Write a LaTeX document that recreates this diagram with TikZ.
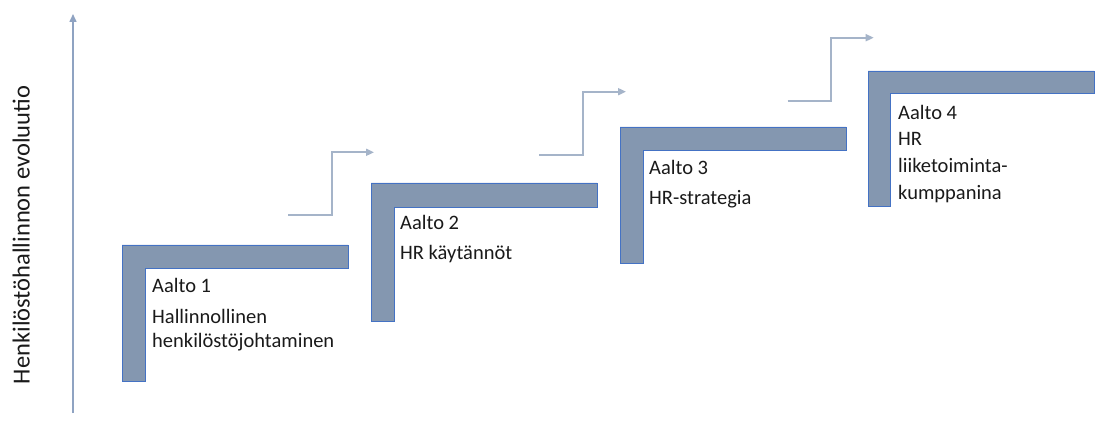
\documentclass[tikz,border=0pt]{standalone}
\usepackage{fontspec}
\setmainfont{Carlito}
\usetikzlibrary{arrows.meta}
\definecolor{stepfill}{HTML}{8497B0}
\definecolor{stepline}{HTML}{4472C4}
\definecolor{arrowc}{HTML}{A5B4C9}
\definecolor{axisc}{HTML}{8FA3C2}
\definecolor{txt}{HTML}{1A1A1A}
\begin{document}
\begin{tikzpicture}[x=1pt,y=-1pt,
  stepshape/.style={fill=stepfill,draw=stepline,line width=0.9pt},
  flowarrow/.style={draw=arrowc,line width=1.8pt,-{Triangle[width=7pt,length=8pt]}},
  axisarrow/.style={draw=axisc,line width=1.5pt,-{Triangle[width=7pt,length=8pt]}},
  steptext/.style={anchor=base west,inner sep=0pt,align=left,text=txt,font=\fontsize{20.5}{24}\selectfont},
  axislabel/.style={anchor=base,rotate=90,inner sep=0pt,text=txt,font=\fontsize{24.5}{28}\selectfont}]
\useasboundingbox[fill=white] (0,0) rectangle (1100,430);

% axis
\coordinate (axbot) at (73,413);
\coordinate (axtop) at (73,14);
\draw[axisarrow] (axbot) -- (axtop);
\node[axislabel] (ylabel) at (29.5,235) {Henkilöstöhallinnon evoluutio};

% step shapes
\draw[stepshape] (122,245) -- (348,245) -- (348,268) -- (145,268) -- (145,381) -- (122,381) -- cycle;
\draw[stepshape] (371,183) -- (597,183) -- (597,207) -- (394,207) -- (394,321) -- (371,321) -- cycle;
\draw[stepshape] (620,127) -- (846,127) -- (846,150) -- (643,150) -- (643,263) -- (620,263) -- cycle;
\draw[stepshape] (868,71) -- (1094,71) -- (1094,93) -- (890,93) -- (890,206) -- (868,206) -- cycle;

% texts (anchored at the baseline of the last line)
\node[steptext] (t1) at (152,347) {Aalto 1\\[7pt]Hallinnollinen\\henkilöstöjohtaminen};
\node[steptext] (t2) at (400,260) {Aalto 2\\[6pt]HR käytännöt};
\node[steptext] (t3) at (649,204.3) {Aalto 3\\[6pt]HR-strategia};
\node[steptext,font=\fontsize{20.5}{26.7}\selectfont] (t4) at (898,199.3) {Aalto 4\\HR\\liiketoiminta-\\kumppanina};

% bent arrows
\coordinate (a1s) at (288,215);
\coordinate (a1e) at (374,152.3);
\draw[flowarrow] (a1s) -- (331.7,215) -- (331.7,152.3) -- (a1e);
\coordinate (a2s) at (539.3,155);
\coordinate (a2e) at (626,91.7);
\draw[flowarrow] (a2s) -- (582.7,155) -- (582.7,91.7) -- (a2e);
\coordinate (a3s) at (787.7,100.7);
\coordinate (a3e) at (873.7,37.7);
\draw[flowarrow] (a3s) -- (830.7,100.7) -- (830.7,37.7) -- (a3e);
\end{tikzpicture}
\end{document}
